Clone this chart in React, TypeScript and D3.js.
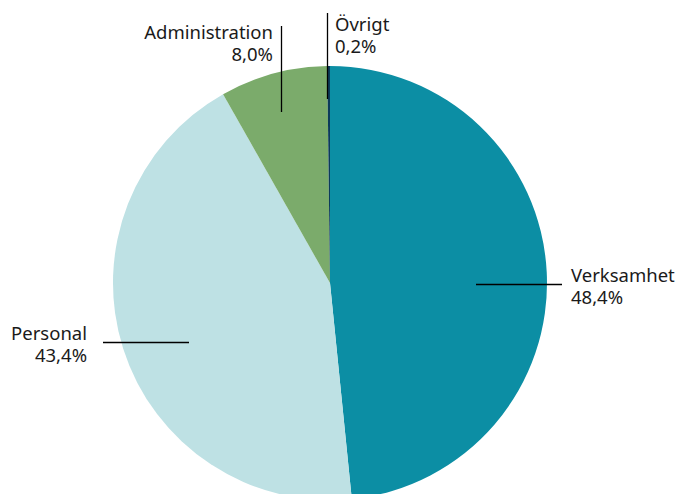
import React from 'react';
import * as d3 from 'd3';

const categories = ['Verksamhet', 'Personal', 'Administration', 'Övrigt'];
const shares = [48.4, 43.4, 8.0, 0.2];
const shareLabels = ['48,4%', '43,4%', '8,0%', '0,2%'];
const colors = ['#0c8ea4', '#bee1e4', '#7bab6b', '#0b3a5a'];

// label placement: leader line (x1,y1)-(x2,y2), text anchor point and alignment
const labelLayout = [
  { x1: 476, y1: 284.5, x2: 562, y2: 284.5, tx: 571, ty: 282, anchor: 'start' },
  { x1: 103, y1: 342.5, x2: 189, y2: 342.5, tx: 87, ty: 340, anchor: 'end' },
  { x1: 281.5, y1: 26, x2: 281.5, y2: 112, tx: 273, ty: 39, anchor: 'end' },
  { x1: 327.5, y1: 13, x2: 327.5, y2: 99, tx: 335, ty: 31, anchor: 'start' },
];

const App: React.FC = () => {
  const width = 677;
  const height = 494;
  const cx = 330;
  const cy = 283;
  const radius = 217;

  const pie = d3.pie<number>().sort(null).value(d => d);
  const arcs = pie(shares);
  const arc = d3.arc<d3.PieArcDatum<number>>().innerRadius(0).outerRadius(radius);

  return (
    <svg width={width} height={height} style={{ position: 'absolute', left: 0, top: 0, background: '#fff' }}
      fontFamily="'Noto Sans', 'Open Sans', sans-serif">
      <g transform={`translate(${cx}, ${cy})`}>
        {arcs.map((a, i) => (
          <path key={categories[i]} d={arc(a) || ''} fill={colors[i]} />
        ))}
      </g>
      {labelLayout.map((l, i) => (
        <g key={categories[i]}>
          <line x1={l.x1} y1={l.y1} x2={l.x2} y2={l.y2} stroke="#000" strokeWidth={1.3} />
          <text x={l.tx} y={l.ty} fontSize={18.5} fill="#1a1a1a" textAnchor={l.anchor}>
            <tspan x={l.tx}>{categories[i]}</tspan>
            <tspan x={l.tx} dy={22}>{shareLabels[i]}</tspan>
          </text>
        </g>
      ))}
    </svg>
  );
};

export default App;
